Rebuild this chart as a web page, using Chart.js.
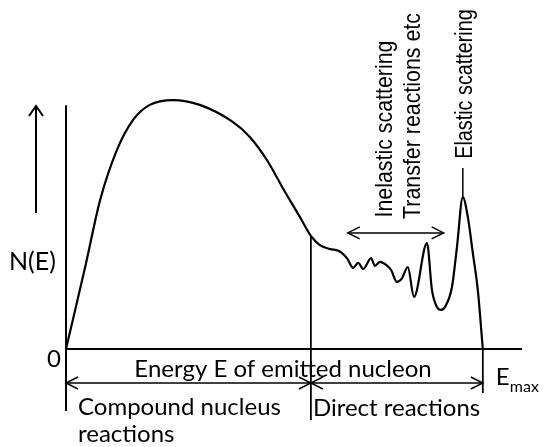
<!DOCTYPE html>
<html>
<head>
<meta charset="utf-8">
<title>N(E) spectrum</title>
<script src="https://cdn.jsdelivr.net/npm/chart.js@4.4.1/dist/chart.umd.min.js"></script>
<style>
  html, body { margin: 0; padding: 0; background: #fff; }
  canvas { display: block; }
</style>
</head>
<body>
<canvas id="spectrum" width="549" height="447"></canvas>
<script>
// energy of emitted nucleon (0 .. Emax = 100) and yield N(E), arbitrary units
const energy = [0, 2.2, 4.6, 8.2, 12.2, 16.1, 20.1, 25.7, 32.1, 40.0, 44.1, 48.2, 52.0, 56.1,
  58.75, 60.9, 63.3, 65.7, 67.4, 68.9, 70.1, 71.3, 73.2, 74.1, 75.3, 76.8, 78.0,
  79.4, 80.6, 82.0, 83.5, 86.6, 87.8, 89.0, 89.9, 90.9, 92.6, 93.8, 95.2, 96.4, 97.6,
  98.8, 100];
const counts = [0, 15.4, 32.3, 58.7, 78.3, 90.2, 96.1, 98.0, 96.1, 89.4, 83.5, 74.4, 63.4, 52.0,
  44.5, 40.9, 39.4, 38.4, 35.8, 31.9, 33.9, 31.5, 35.8, 32.7, 34.3, 33.1, 31.1,
  26.4, 27.8, 32.2, 20.5, 41.7, 23.2, 16.5, 15.4, 16.5, 24.4, 40.2, 59.8, 52.0, 37.8,
  23.2, 0];

const eMax = 100;
const dividerE = 58.75;      // compound nucleus / direct reactions boundary
const inelasticFrom = 67.6;  // span of inelastic + transfer region
const inelasticTo = 90.6;
const elasticPeakE = 95.2;

const labels = {
  yAxis: "N(E)",
  origin: "0",
  xAxis: "Energy E of emitted nucleon",
  compound: ["Compound nucleus", "reactions"],
  direct: "Direct reactions",
  inelastic: "Inelastic scattering",
  transfer: "Transfer reactions etc",
  elastic: "Elastic scattering"
};

const bodyFont = "Lato, 'Open Sans', sans-serif";
const sideFont = "'Liberation Sans', Arial, sans-serif";

function arrowHead(ctx, x, y, dx, dy, len, half) {
  // open chevron pointing along (dx, dy)
  const nx = -dy, ny = dx;
  ctx.beginPath();
  ctx.moveTo(x - dx * len + nx * half, y - dy * len + ny * half);
  ctx.lineTo(x, y);
  ctx.lineTo(x - dx * len - nx * half, y - dy * len - ny * half);
  ctx.stroke();
}

function line(ctx, x1, y1, x2, y2) {
  ctx.beginPath();
  ctx.moveTo(x1, y1);
  ctx.lineTo(x2, y2);
  ctx.stroke();
}

const sketchPlugin = {
  id: "sketch",
  afterDraw(chart) {
    const ctx = chart.ctx;
    const x = chart.scales.x, y = chart.scales.y;
    const ox = x.getPixelForValue(0), oy = y.getPixelForValue(0);
    const xd = x.getPixelForValue(dividerE), xm = x.getPixelForValue(eMax);
    const peakIdx = energy.indexOf(elasticPeakE);
    const divIdx = energy.indexOf(dividerE);

    ctx.save();
    ctx.strokeStyle = "#000";
    ctx.fillStyle = "#000";
    ctx.lineCap = "butt";

    // axes
    ctx.lineWidth = 2;
    line(ctx, ox, y.getPixelForValue(96), ox, oy + 62);
    line(ctx, ox, oy, x.getPixelForValue(109.4), oy);

    // region boundaries
    ctx.lineWidth = 1.8;
    line(ctx, xd, y.getPixelForValue(counts[divIdx]), xd, oy + 71);
    line(ctx, xm, oy, xm, oy + 44);

    // range arrows under the axis
    ctx.lineWidth = 1.5;
    const ay = oy + 34;
    line(ctx, ox, ay, xd, ay);
    line(ctx, xd, ay, xm, ay);
    arrowHead(ctx, ox, ay, -1, 0, 12, 6);
    arrowHead(ctx, xd, ay, 1, 0, 12, 6);
    arrowHead(ctx, xd, ay, -1, 0, 12, 6);
    arrowHead(ctx, xm, ay, 1, 0, 12, 6);

    // inelastic / transfer span
    const iy = y.getPixelForValue(45.7);
    const ix1 = x.getPixelForValue(inelasticFrom), ix2 = x.getPixelForValue(inelasticTo);
    line(ctx, ix1, iy, ix2, iy);
    arrowHead(ctx, ix1, iy, -1, 0, 12, 6);
    arrowHead(ctx, ix2, iy, 1, 0, 12, 6);

    // elastic peak leader
    const ex = x.getPixelForValue(elasticPeakE);
    line(ctx, ex, y.getPixelForValue(counts[peakIdx]), ex, y.getPixelForValue(71.3));

    // increasing N(E) arrow
    ctx.lineWidth = 2;
    line(ctx, ox - 30, oy - 136, ox - 30, oy - 243);
    arrowHead(ctx, ox - 30, oy - 243, 0, -1, 10, 7);

    // text
    ctx.textBaseline = "alphabetic";
    ctx.font = "25px " + bodyFont;
    ctx.textAlign = "left";
    ctx.fillText(labels.yAxis, ox - 57, oy - 79);
    ctx.font = "24px " + bodyFont;
    ctx.textAlign = "center";
    ctx.fillText(labels.origin, ox - 12, oy + 18);
    ctx.fillText(labels.xAxis, ox + 217, oy + 28);
    ctx.textAlign = "left";
    ctx.fillText(labels.compound[0], ox + 12, oy + 66);
    ctx.fillText(labels.compound[1], ox + 12, oy + 93);
    ctx.fillText(labels.direct, xd + 2, oy + 67);
    ctx.fillText("E", xm + 13, oy + 36);
    ctx.font = "16px " + bodyFont;
    ctx.fillText("max", xm + 27, oy + 43);

    // rotated region labels, slightly condensed along the text direction
    const vertical = (text, cx, cy, size, squeeze) => {
      ctx.save();
      ctx.translate(cx, cy);
      ctx.rotate(-Math.PI / 2);
      ctx.scale(squeeze, 1);
      ctx.font = size + "px " + sideFont;
      ctx.textAlign = "center";
      ctx.textBaseline = "middle";
      ctx.fillText(text, 0, 0);
      ctx.restore();
    };
    vertical(labels.inelastic, 385, 129, 24, 0.89);
    vertical(labels.transfer, 413, 116, 24, 0.89);
    vertical(labels.elastic, 466, 84, 23, 0.86);

    ctx.restore();
  }
};

new Chart(document.getElementById("spectrum"), {
  type: "line",
  data: {
    datasets: [{
      data: energy.map((e, i) => ({ x: e, y: counts[i] })),
      borderColor: "#000",
      borderWidth: 2.2,
      pointRadius: 0,
      cubicInterpolationMode: "monotone",
      fill: false,
      clip: false
    }]
  },
  options: {
    responsive: false,
    animation: false,
    layout: { padding: { left: 66, right: 27, top: 95, bottom: 98 } },
    plugins: { legend: { display: false }, tooltip: { enabled: false } },
    scales: {
      x: { type: "linear", min: 0, max: 109.4, display: false },
      y: { min: 0, max: 100, display: false }
    }
  },
  plugins: [sketchPlugin]
});
</script>
</body>
</html>
